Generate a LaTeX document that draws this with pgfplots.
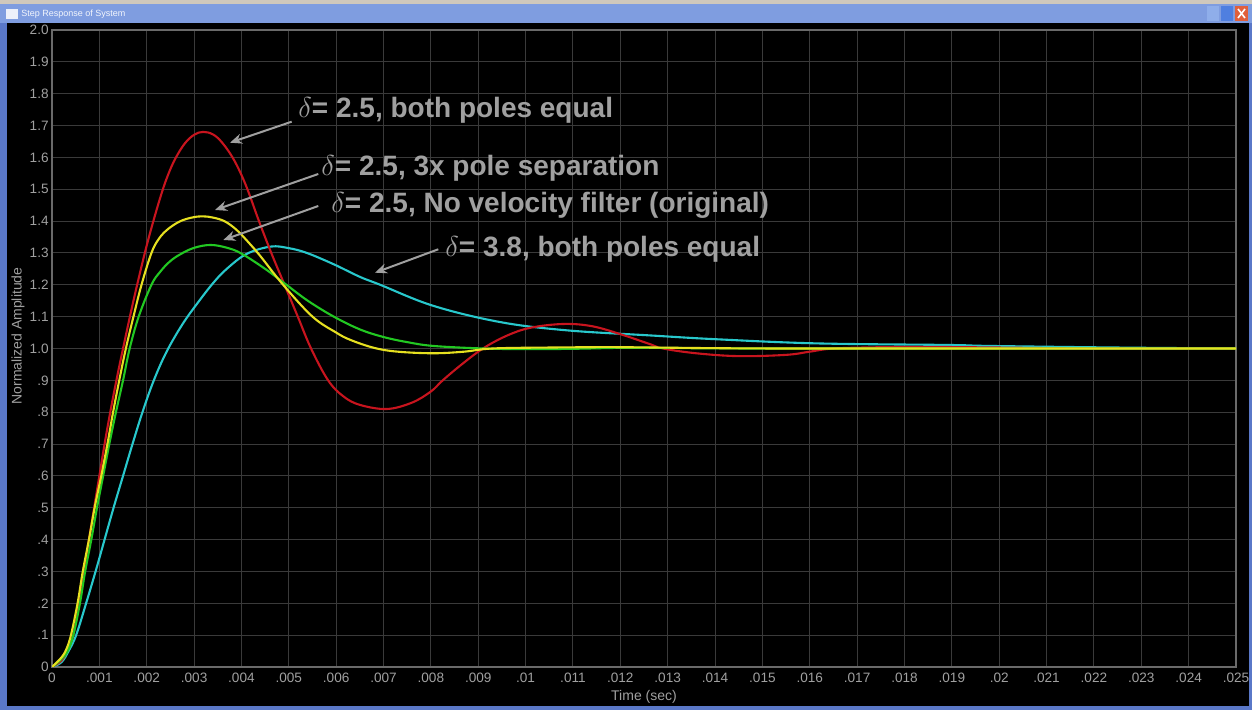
\documentclass[border=0pt]{standalone}
\usepackage{fontspec}
\setmainfont{Liberation Sans}
\usepackage{pgfplots}
\pgfplotsset{compat=1.18}
\usetikzlibrary{arrows.meta}
\definecolor{gridc}{HTML}{3A3A3A}
\definecolor{axisc}{HTML}{6A6A6A}
\definecolor{labc}{HTML}{A0A0A0}
\definecolor{annc}{HTML}{A0A0A0}
\definecolor{framebl}{HTML}{5A78C8}
\definecolor{titlebl}{HTML}{7F9DE0}
\definecolor{topline}{HTML}{CFC8BC}
\definecolor{btnA}{HTML}{8FAEEA}
\definecolor{btnB}{HTML}{4F7FE0}
\definecolor{btnC}{HTML}{E0603C}
\definecolor{cred}{HTML}{C8141E}
\definecolor{cyel}{HTML}{E6E020}
\definecolor{cgrn}{HTML}{22C822}
\definecolor{ccyn}{HTML}{28C8CC}
\begin{document}
\begin{tikzpicture}
\begin{scope}[shift={(0pt,355pt)},x=0.5pt,y=-0.5pt]
\fill[black] (0,0) rectangle (1252,710);
\fill[framebl] (0,0) rectangle (7,710);
\fill[framebl] (0,706) rectangle (1252,710);
\fill[framebl] (1249,0) rectangle (1252,710);
\fill[topline] (0,0) rectangle (1252,4);
\fill[titlebl] (0,4) rectangle (1252,23);
\fill[white!85!titlebl] (6,9) rectangle (18,19);
\node[anchor=west,text=white!90!titlebl,inner sep=0,font=\fontsize{4.5}{5}\selectfont] at (21,14) {Step Response of System};
\fill[btnA] (1207,6) rectangle (1219,21);
\fill[btnB] (1221,6) rectangle (1233,21);
\fill[btnC] (1235,6) rectangle (1248,21);
\draw[white,line width=0.8pt] (1238,9)--(1245,18) (1238,18)--(1245,9);
\end{scope}
\begin{axis}[
  at={(26pt,21.5pt)}, anchor=south west,
  scale only axis, width=592pt, height=318.5pt,
  xmin=0, xmax=0.025, ymin=0, ymax=2,
  axis background/.style={fill=black},
  xtick={0,0.001,0.002,0.003,0.004,0.005,0.006,0.007,0.008,0.009,0.010,0.011,0.012,0.013,0.014,0.015,0.016,0.017,0.018,0.019,0.020,0.021,0.022,0.023,0.024,0.025},
  xticklabels={0,.001,.002,.003,.004,.005,.006,.007,.008,.009,.01,.011,.012,.013,.014,.015,.016,.017,.018,.019,.02,.021,.022,.023,.024,.025},
  ytick={0,0.1,0.2,0.3,0.4,0.5,0.6,0.7,0.8,0.9,1.0,1.1,1.2,1.3,1.4,1.5,1.6,1.7,1.8,1.9,2.0},
  yticklabels={0,.1,.2,.3,.4,.5,.6,.7,.8,.9,1.0,1.1,1.2,1.3,1.4,1.5,1.6,1.7,1.8,1.9,2.0},
  scaled x ticks=false, scaled y ticks=false,
  grid=major, major grid style={gridc,line width=0.5pt},
  axis line style={axisc,line width=0.6pt},
  major tick length=0pt, tick style={draw=none},
  tick label style={text=labc,font=\fontsize{6.8}{7}\selectfont},
  xticklabel style={inner sep=1pt,yshift=-2pt},
  yticklabel style={inner sep=1pt,xshift=-0.5pt},
  every axis plot/.append style={line width=1.05pt,smooth,tension=0.6,no markers},
]
\addplot[ccyn] coordinates {(0,0) (0.0002,0.015) (0.00035,0.05) (0.00051,0.1) (0.00072,0.2) (0.00092,0.3) (0.00111,0.4) (0.0013,0.5) (0.0015,0.6) (0.0017,0.7) (0.00191,0.8) (0.00215,0.9) (0.00242,0.99) (0.00275,1.075) (0.00306,1.14) (0.0034,1.205) (0.00369,1.25) (0.00411,1.297) (0.00462,1.32) (0.005,1.315) (0.00538,1.30) (0.00594,1.265) (0.0065,1.225) (0.00693,1.20) (0.00805,1.134) (0.00946,1.083) (0.01087,1.057) (0.01263,1.041) (0.01403,1.029) (0.01615,1.016) (0.01896,1.011) (0.0198,1.008) (0.0225,1.003) (0.025,1.0)};
\addplot[cred] coordinates {(0,0) (0.0002,0.02) (0.00032,0.05) (0.00045,0.1) (0.00057,0.2) (0.00067,0.3) (0.00078,0.4) (0.00089,0.5) (0.001,0.6) (0.00111,0.7) (0.00123,0.8) (0.00136,0.9) (0.0015,1.0) (0.00172,1.15) (0.00196,1.3) (0.00214,1.40) (0.00232,1.49) (0.00245,1.545) (0.0026,1.595) (0.0028,1.643) (0.003,1.671) (0.00319,1.68) (0.0034,1.672) (0.0036,1.645) (0.00385,1.59) (0.0041,1.51) (0.00437,1.4) (0.00463,1.3) (0.00491,1.2) (0.00519,1.1) (0.00547,1.0) (0.00583,0.9) (0.00615,0.85) (0.0065,0.823) (0.00707,0.81) (0.0076,0.83) (0.008,0.865) (0.00825,0.9) (0.00865,0.95) (0.0091,1.0) (0.0096,1.04) (0.0101,1.065) (0.0108,1.077) (0.0114,1.07) (0.012,1.045) (0.0126,1.015) (0.0129,1.0) (0.0136,0.985) (0.0145,0.976) (0.0155,0.98) (0.016,0.99) (0.0165,1.0) (0.0175,1.004) (0.0185,1.005) (0.020,1.003) (0.022,1.0) (0.025,1.0)};
\addplot[cgrn] coordinates {(0,0) (0.0002,0.025) (0.00033,0.05) (0.00045,0.1) (0.00059,0.2) (0.0007,0.3) (0.00083,0.4) (0.00095,0.5) (0.00108,0.6) (0.00121,0.7) (0.00135,0.8) (0.0015,0.9) (0.00164,1.0) (0.00183,1.1) (0.0021,1.2) (0.00228,1.24) (0.00248,1.272) (0.0027,1.295) (0.003,1.316) (0.00335,1.325) (0.0037,1.316) (0.004,1.298) (0.0045,1.25) (0.00495,1.20) (0.0054,1.15) (0.00595,1.10) (0.0065,1.06) (0.007,1.036) (0.0075,1.02) (0.00805,1.008) (0.0091,1.0) (0.010,0.998) (0.011,0.999) (0.012,1.002) (0.013,1.002) (0.015,1.0) (0.025,1.0)};
\addplot[cyel] coordinates {(0,0) (0.0002,0.03) (0.0003,0.055) (0.0004,0.1) (0.00054,0.2) (0.00065,0.3) (0.00078,0.4) (0.0009,0.5) (0.00104,0.6) (0.00117,0.7) (0.00129,0.8) (0.00142,0.9) (0.00156,1.0) (0.00172,1.1) (0.00189,1.2) (0.0021,1.3) (0.00226,1.345) (0.00245,1.375) (0.0027,1.399) (0.00295,1.411) (0.00317,1.415) (0.0034,1.411) (0.00365,1.399) (0.0039,1.372) (0.00415,1.333) (0.0044,1.29) (0.00488,1.20) (0.0055,1.10) (0.006,1.05) (0.0063,1.027) (0.0068,1.002) (0.0073,0.99) (0.00805,0.985) (0.0087,0.99) (0.0093,1.0) (0.0105,1.003) (0.012,1.004) (0.014,1.001) (0.016,1.0) (0.025,1.0)};
\end{axis}
\begin{scope}[shift={(0pt,355pt)},x=0.5pt,y=-0.5pt]
\node[anchor=center,text=labc,font=\fontsize{7}{7}\selectfont,rotate=90] at (18,336) {Normalized Amplitude};
\node[anchor=center,text=labc,font=\fontsize{7}{7}\selectfont] at (644,697) {Time (sec)};
\begin{scope}[annc,line width=1pt,-{Stealth[length=6pt,width=5pt]}]
\draw (291.7,121.7) -- (230,142.7);
\draw (318.3,174) -- (215,210);
\draw (318.3,206) -- (223.3,240);
\draw (438.3,249.3) -- (375,272.7);
\end{scope}
\begin{scope}[every node/.style={anchor=west,inner sep=0,text=annc,font=\fontsize{14}{14}\selectfont\bfseries}]
\node at (298,110) {$\delta$= 2.5, both poles equal};
\node at (321,168) {$\delta$= 2.5, 3x pole separation};
\node at (331,205) {$\delta$= 2.5, No velocity filter (original)};
\node at (445,249) {$\delta$= 3.8, both poles equal};
\end{scope}
\end{scope}
\pgfresetboundingbox
\path (0pt,0pt) rectangle (626pt,355pt);
\end{tikzpicture}
\end{document}
